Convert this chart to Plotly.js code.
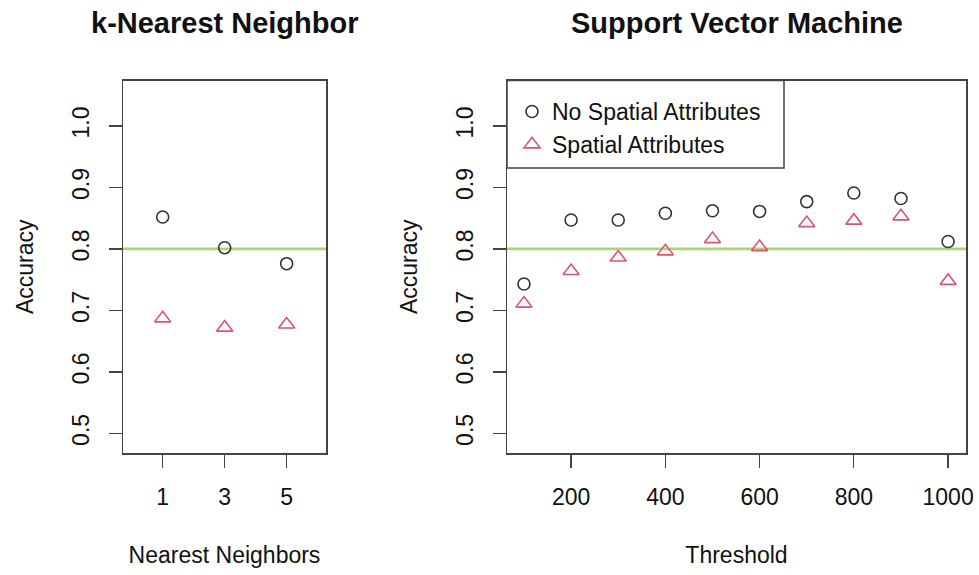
<!DOCTYPE html>
<html>
<head>
<meta charset="utf-8">
<script src="https://cdn.plot.ly/plotly-3.0.1.min.js"></script>
<style>html,body{margin:0;padding:0;background:#fff;}#chart{width:979px;height:575px;}</style>
</head>
<body>
<div id="chart"></div>
<script>
// k-NN panel data
const knnNeighbors = [1, 3, 5];
const knnNoSpatial = [0.852, 0.802, 0.776];
const knnSpatial = [0.687, 0.672, 0.677];

// SVM panel data
const svmThreshold = [100, 200, 300, 400, 500, 600, 700, 800, 900, 1000];
const svmNoSpatial = [0.743, 0.847, 0.847, 0.858, 0.862, 0.861, 0.877, 0.891, 0.882, 0.812];
const svmSpatial = [0.711, 0.764, 0.786, 0.796, 0.816, 0.803, 0.842, 0.846, 0.853, 0.748];

const baseline = 0.8;
const yTicks = [0.5, 0.6, 0.7, 0.8, 0.9, 1.0];
const knnTicks = [1, 3, 5];
const svmTicks = [200, 400, 600, 800, 1000];

const seriesNames = ['No Spatial Attributes', 'Spatial Attributes'];
const panelTitles = ['k-Nearest Neighbor', 'Support Vector Machine'];
const xTitles = ['Nearest Neighbors', 'Threshold'];
const yTitle = 'Accuracy';

const W = 979, H = 575;
const FONT = '"Liberation Sans", Arial, Helvetica, sans-serif';
const circleStyle = {symbol: 'circle-open', size: 12, color: '#333333', line: {width: 1.6}};
const triStyle = {symbol: 'triangle-up-open', size: 14, color: '#DF536B', line: {width: 1.6}};

const traces = [
  {x: knnNeighbors, y: knnNoSpatial, xaxis: 'x', yaxis: 'y', mode: 'markers', marker: circleStyle, name: seriesNames[0], showlegend: false},
  {x: knnNeighbors, y: knnSpatial, xaxis: 'x', yaxis: 'y', mode: 'markers', marker: triStyle, name: seriesNames[1], showlegend: false},
  {x: svmThreshold, y: svmNoSpatial, xaxis: 'x2', yaxis: 'y2', mode: 'markers', marker: circleStyle, name: seriesNames[0]},
  {x: svmThreshold, y: svmSpatial, xaxis: 'x2', yaxis: 'y2', mode: 'markers', marker: triStyle, name: seriesNames[1]}
];

const plotTop = 80.5, plotBottom = 453;
const yDomain = [(H - plotBottom) / H, (H - plotTop) / H];
const d1 = [123 / W, 326 / W];
const d2 = [507 / W, 966 / W];

function xAxis(domain, range, ticks, title, anchor) {
  return {
    domain: domain, range: range, anchor: anchor,
    tickvals: ticks, ticktext: ticks.map(String),
    showgrid: false, zeroline: false,
    showline: true, mirror: true, linecolor: '#444', linewidth: 1.5,
    ticks: 'outside', ticklen: 13, tickwidth: 1.3, tickcolor: '#444',
    ticklabelstandoff: 10,
    tickfont: {family: FONT, size: 23, color: '#111'},
    title: {text: title, font: {family: FONT, size: 23, color: '#111'}, standoff: 38}
  };
}
function yAxis(anchor) {
  return {
    domain: yDomain, range: [0.468, 1.074], anchor: anchor,
    tickvals: yTicks, ticktext: yTicks.map(v => v.toFixed(1)),
    tickangle: -90,
    showgrid: false, zeroline: false,
    showline: true, mirror: true, linecolor: '#444', linewidth: 1.5,
    ticks: 'outside', ticklen: 13, tickwidth: 1.3, tickcolor: '#444',
    ticklabelstandoff: 10,
    tickfont: {family: FONT, size: 23, color: '#111'},
    title: {text: yTitle, font: {family: FONT, size: 23, color: '#111'}, standoff: 28}
  };
}

const layout = {
  width: W, height: H,
  margin: {l: 0, r: 0, t: 0, b: 0},
  paper_bgcolor: '#fff', plot_bgcolor: '#fff',
  font: {family: FONT, color: '#111'},
  xaxis: xAxis(d1, [-0.28, 6.27], knnTicks, xTitles[0], 'y'),
  yaxis: yAxis('x'),
  xaxis2: xAxis(d2, [64, 1038], svmTicks, xTitles[1], 'y2'),
  yaxis2: yAxis('x2'),
  showlegend: true,
  legend: {
    x: 512 / W, xanchor: 'left', y: 1 - 90 / H, yanchor: 'top',
    bgcolor: 'rgba(0,0,0,0)', borderwidth: 0,
    font: {family: FONT, size: 23, color: '#111'},
    tracegroupgap: 0, itemwidth: 30
  },
  shapes: [
    {type: 'line', xref: 'x domain', yref: 'y', x0: 0, x1: 1, y0: baseline, y1: baseline, line: {color: '#AFD474', width: 2.6}, layer: 'below'},
    {type: 'line', xref: 'x2 domain', yref: 'y2', x0: 0, x1: 1, y0: baseline, y1: baseline, line: {color: '#AFD474', width: 2.6}, layer: 'below'},
    {type: 'rect', xref: 'paper', yref: 'paper', x0: 507 / W, x1: 784 / W, y0: 1 - 168 / H, y1: 1 - 80.5 / H, line: {color: '#444', width: 1.5}, fillcolor: 'rgba(0,0,0,0)'}
  ],
  annotations: [
    {text: '<b>' + panelTitles[0] + '</b>', xref: 'paper', yref: 'paper', x: (d1[0] + d1[1]) / 2, y: 1 - 23 / H, xanchor: 'center', yanchor: 'middle', showarrow: false, font: {family: FONT, size: 29, color: '#111'}},
    {text: '<b>' + panelTitles[1] + '</b>', xref: 'paper', yref: 'paper', x: (d2[0] + d2[1]) / 2, y: 1 - 23 / H, xanchor: 'center', yanchor: 'middle', showarrow: false, font: {family: FONT, size: 29, color: '#111'}}
  ]
};

Plotly.newPlot('chart', traces, layout, {staticPlot: true, displayModeBar: false});
</script>
</body>
</html>
